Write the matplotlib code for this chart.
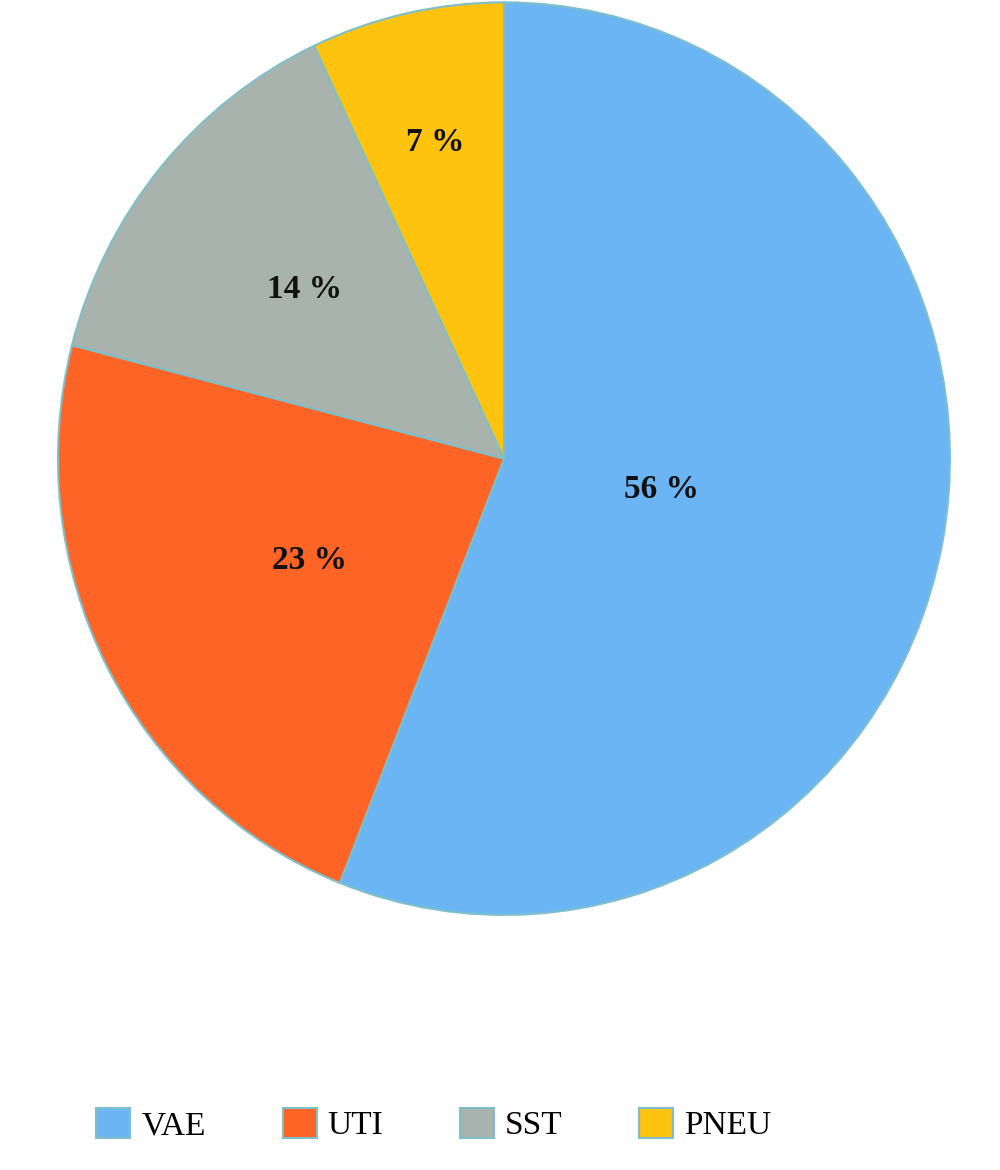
import numpy as np
import matplotlib.pyplot as plt

# -----------------------------
# DATA
# -----------------------------
labels = ["VAE", "UTI", "SST", "PNEU"]
shares = [56, 23, 14, 7]
colors = ["#6cb5f4", "#fd6426", "#a9b3ad", "#fdc30f"]
label_radius = [0.36, 0.49, 0.58, 0.71]

plt.rcParams['font.family'] = ['Liberation Serif', 'DejaVu Serif']

fig = plt.figure(figsize=(10, 11.7), dpi=100)
ax = fig.add_axes([0.058, 0.218, 0.892, 0.780])

wedges, _ = ax.pie(shares, colors=colors, startangle=90, counterclock=False,
                   wedgeprops=dict(edgecolor="#7fbfc8", linewidth=1.5))
ax.set_xlim(-1, 1)
ax.set_ylim(-1, 1)
ax.set_aspect('auto')

# percent labels
for w, s, r in zip(wedges, shares, label_radius):
    mid = np.deg2rad((w.theta1 + w.theta2) / 2)
    ax.text(r * np.cos(mid), r * np.sin(mid), f"{s} %", ha='center', va='center',
            fontsize=24, fontweight='bold', color='#111111')

leg = fig.legend(wedges, labels, loc='center', bbox_to_anchor=(0.434, 0.039),
                 ncol=4, frameon=False, fontsize=24, handlelength=1.02,
                 handleheight=1.02, handletextpad=0.33, columnspacing=2.3)
for h in leg.legend_handles:
    h.set_edgecolor("#7fbfc8")

fig.savefig("out.png", dpi=100)
